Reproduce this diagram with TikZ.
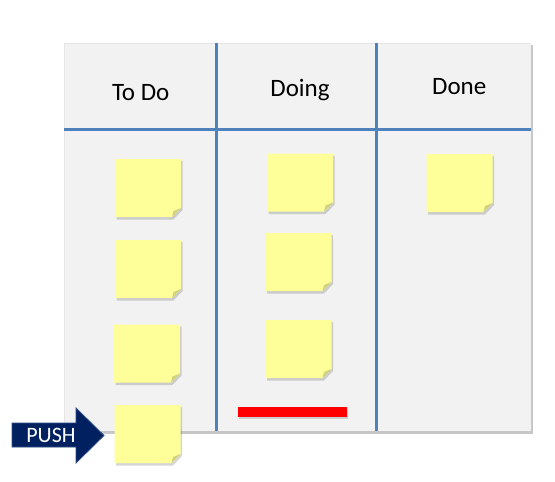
\documentclass[tikz,border=0pt]{standalone}
\usepackage{fontspec}
\setmainfont{Carlito}
\definecolor{boardbg}{RGB}{242,242,242}
\definecolor{laneblue}{RGB}{79,129,189}
\definecolor{notey}{RGB}{255,255,153}
\definecolor{foldy}{RGB}{210,210,125}
\definecolor{navy}{RGB}{0,32,96}
\definecolor{navyedge}{RGB}{45,75,135}
\tikzset{
  lane/.style={draw=laneblue, line width=3pt},
  header/.style={anchor=base, inner sep=0pt, font=\fontsize{25}{29}\selectfont},
  sticky/.pic={
    \fill[black, opacity=0.16] (1.5,2) -- (67.5,2) -- (67.5,51) -- (58.5,60.5) -- (1.5,60.5) -- cycle;
    \fill[notey] (0,0) -- (66,0) -- (66,49) -- (57,58) -- (0,58) -- cycle;
    \fill[foldy] (66,49) -- (57,58) -- (58.5,52) -- cycle;
  }
}
\begin{document}
\begin{tikzpicture}[x=1pt,y=-1pt]
\useasboundingbox (0,0) rectangle (555,482);
% board
\fill[black!22] (65,44.5) rectangle (532.5,433.5);
\fill[boardbg] (64,43) rectangle (531,431);
\draw[black!10, line width=0.8pt] (64,431) -- (64,43) -- (531,43);
% lanes
\draw[lane] (64,129) -- (531,129);
\draw[lane] (216,43) -- (216,431);
\draw[lane] (376,43) -- (376,431);
% headers
\node[header] (todo) at (140.7,100.7) {To Do};
\node[header] (doing) at (300,96.7) {Doing};
\node[header] (done) at (459.2,94.3) {Done};
% sticky notes
\pic at (115,159) {sticky};
\pic at (115,240) {sticky};
\pic at (114,324.5) {sticky};
\pic at (114.5,405) {sticky};
\pic at (267,153.5) {sticky};
\pic at (265.5,233) {sticky};
\pic at (265.5,320) {sticky};
\pic at (426.5,154) {sticky};
% limit bar
\fill[black, opacity=0.15] (239,408.5) rectangle (348,418.5);
\fill[red] (238,407) rectangle (347,417);
% push arrow
\filldraw[fill=navy, draw=navyedge, line width=0.8pt]
  (12,423) -- (76,423) -- (76,408) -- (104,435.5) -- (76,463) -- (76,447) -- (12,447) -- cycle;
\node[text=white, inner sep=0pt, font=\fontsize{22}{25}\selectfont] (push) at (51,435) {PUSH};
\end{tikzpicture}
\end{document}
